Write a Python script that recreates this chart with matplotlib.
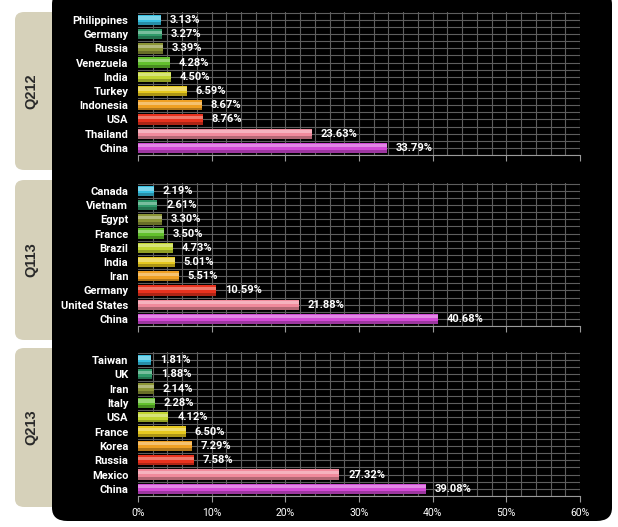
import matplotlib.pyplot as plt
import numpy as np
from matplotlib.patches import FancyBboxPatch
from matplotlib import font_manager

# data, top bar first
q212_names = ["Philippines", "Germany", "Russia", "Venezuela", "India",
              "Turkey", "Indonesia", "USA", "Thailand", "China"]
q212_vals = [3.13, 3.27, 3.39, 4.28, 4.50, 6.59, 8.67, 8.76, 23.63, 33.79]

q113_names = ["Canada", "Vietnam", "Egypt", "France", "Brazil",
              "India", "Iran", "Germany", "United States", "China"]
q113_vals = [2.19, 2.61, 3.30, 3.50, 4.73, 5.01, 5.51, 10.59, 21.88, 40.68]

q213_names = ["Taiwan", "UK", "Iran", "Italy", "USA",
              "France", "Korea", "Russia", "Mexico", "China"]
q213_vals = [1.81, 1.88, 2.14, 2.28, 4.12, 6.50, 7.29, 7.58, 27.32, 39.08]

quarters = ["Q212", "Q113", "Q213"]
x_ticks = [0, 10, 20, 30, 40, 50, 60]

bar_colors = ["#36bfe0", "#2f9a6a", "#8b9436", "#62c02c", "#c2d632",
              "#e6c81e", "#f0a024", "#e8321e", "#f08a9c", "#d24ad6"]

installed = {f.name for f in font_manager.fontManager.ttflist}
narrow = "Liberation Sans Narrow" if "Liberation Sans Narrow" in installed else "Roboto"
plt.rcParams["font.family"] = [narrow, "DejaVu Sans"]

W, H = 618, 527
fig = plt.figure(figsize=(W / 100, H / 100), dpi=100, facecolor="white")

# beige tabs (top, bottom in pixels), sitting behind the black panel
tabs = [(12, 170), (180, 340), (348, 507)]
for (t, b), q in zip(tabs, quarters):
    fig.patches.append(FancyBboxPatch((15 / W, 1 - b / H), 50 / W, (b - t) / H,
                                      boxstyle="round,pad=0,rounding_size=0.015",
                                      transform=fig.transFigure, facecolor="#d6d1ba",
                                      edgecolor="none", zorder=-2))
    fig.text(31 / W, 1 - (t + b) / 2 / H, q, rotation=90, ha="center", va="center",
             fontsize=10.5, fontweight="bold", color="#2a2a2a", zorder=5,
             family="Liberation Sans")

# black rounded panel
fig.patches.append(FancyBboxPatch((52 / W, 6 / H), 560 / W, 530 / H,
                                  boxstyle="round,pad=0,rounding_size=0.025",
                                  transform=fig.transFigure, facecolor="black",
                                  edgecolor="none", zorder=-1))

# axes extents (grid top, axis line) in pixels
spans = [(12, 155), (183, 326), (352, 496)]
groups = [(q212_names, q212_vals), (q113_names, q113_vals), (q213_names, q213_vals)]

for i, ((t, b), (names, vals)) in enumerate(zip(spans, groups)):
    ax = fig.add_axes([138 / W, 1 - b / H, 442 / W, (b - t) / H])
    ax.set_zorder(3)
    ax.set_facecolor("none")
    y = np.arange(len(names))
    # grid
    for gx in np.arange(2, 61, 2):
        ax.axvline(gx, color="#5e5e5e", lw=0.8, zorder=1)
    for gy in np.arange(-0.5, 9.6, 0.5):
        ax.axhline(gy, color="#5e5e5e", lw=0.8, zorder=1)
    # bars with a glossy look
    ax.barh(y, vals, height=0.72, color=bar_colors, edgecolor="none", zorder=2)
    ax.barh(y - 0.14, vals, height=0.22, color="white", alpha=0.35,
            edgecolor="none", zorder=3)
    ax.barh(y + 0.26, vals, height=0.2, color="black", alpha=0.25,
            edgecolor="none", zorder=3)
    for yy, v in zip(y, vals):
        ax.text(v + 1.2, yy, f"{v:.2f}%", color="white", fontsize=8,
                fontweight="bold", va="center", ha="left", zorder=4)
    ax.set_ylim(9.5, -0.56)
    ax.set_xlim(0, 60)
    ax.set_yticks(y)
    ax.set_yticklabels(names, color="white", fontsize=8, fontweight="bold")
    ax.tick_params(axis="y", length=0, pad=7)
    ax.set_xticks(x_ticks)
    ax.tick_params(axis="x", colors="#9a9a9a", length=4, labelcolor="white",
                   labelsize=7.5, pad=5)
    if i < 2:
        ax.set_xticklabels([])
    else:
        ax.set_xticklabels([f"{v}%" for v in x_ticks])
    for s in ["top", "right", "left"]:
        ax.spines[s].set_visible(False)
    ax.spines["bottom"].set_color("#9a9a9a")

fig.savefig("out.png", dpi=100, facecolor="white")
